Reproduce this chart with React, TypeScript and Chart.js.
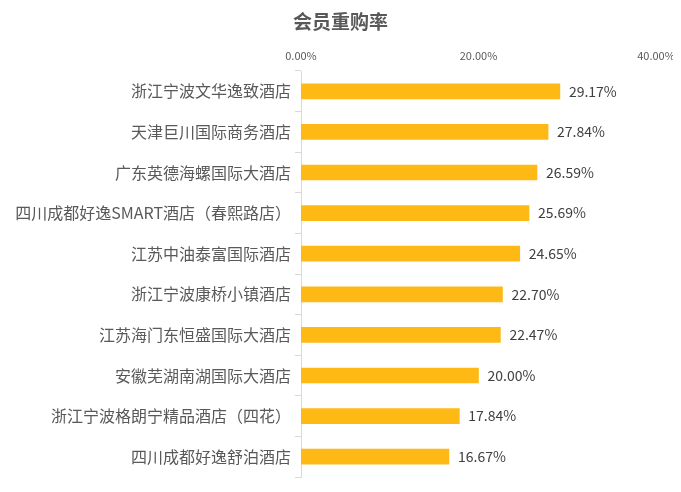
import React, { useEffect, useRef } from "react";
import { Chart, registerables } from "chart.js";

Chart.register(...registerables);

const categories = [
  "浙江宁波文华逸致酒店",
  "天津巨川国际商务酒店",
  "广东英德海螺国际大酒店",
  "四川成都好逸SMART酒店（春熙路店）",
  "江苏中油泰富国际酒店",
  "浙江宁波康桥小镇酒店",
  "江苏海门东恒盛国际大酒店",
  "安徽芜湖南湖国际大酒店",
  "浙江宁波格朗宁精品酒店（四花）",
  "四川成都好逸舒泊酒店",
];
const values = [29.17, 27.84, 26.59, 25.69, 24.65, 22.7, 22.47, 20.0, 17.84, 16.67];
const xTicks = [0, 20, 40];

const FONT = "'Noto Sans CJK SC', 'Microsoft YaHei', sans-serif";

const valueLabels = {
  id: "valueLabels",
  afterDatasetsDraw(chart: any) {
    const ctx = chart.ctx;
    const meta = chart.getDatasetMeta(0);
    ctx.save();
    ctx.font = `14px ${FONT}`;
    ctx.fillStyle = "#404040";
    ctx.textAlign = "left";
    ctx.textBaseline = "middle";
    meta.data.forEach((bar: any, i: number) => {
      ctx.fillText(values[i].toFixed(2) + "%", bar.x + 9, bar.y);
    });
    ctx.restore();
  },
};

export default function App() {
  const ref = useRef<HTMLCanvasElement>(null);
  useEffect(() => {
    if (!ref.current) return;
    const chart = new Chart(ref.current, {
      type: "bar",
      data: {
        labels: categories,
        datasets: [
          {
            data: values,
            backgroundColor: "#FFB915",
            barThickness: 15,
          },
        ],
      },
      options: {
        indexAxis: "y",
        animation: false,
        responsive: true,
        maintainAspectRatio: false,
        layout: { padding: { left: 0, right: 0, top: 0, bottom: 7 } },
        plugins: {
          legend: { display: false },
          tooltip: { enabled: false },
          title: {
            display: true,
            text: "会员重购率",
            color: "#595959",
            font: { family: FONT, size: 19, weight: "bold" },
            padding: { top: 2, bottom: 15 },
          },
        },
        scales: {
          x: {
            position: "top",
            min: 0,
            max: 40,
            afterBuildTicks: (scale: any) => {
              scale.ticks = xTicks.map((v) => ({ value: v }));
            },
            afterFit: (scale: any) => {
              scale.paddingLeft = 0;
              scale.paddingRight = 17;
            },
            grid: { display: false },
            border: { display: false },
            ticks: {
              color: "#595959",
              font: { family: FONT, size: 11 },
              padding: 1,
              callback: (v: any) => Number(v).toFixed(2) + "%",
            },
          },
          y: {
            afterFit: (scale: any) => {
              scale.width = 293;
              scale.paddingTop = 0;
              scale.paddingBottom = 0;
            },
            grid: {
              offset: true,
              drawOnChartArea: false,
              drawTicks: true,
              tickLength: 6,
              color: "#d9d9d9",
            },
            border: { display: true, color: "#d9d9d9" },
            ticks: {
              color: "#595959",
              font: { family: FONT, size: 16 },
              padding: 4,
            },
          },
        },
      },
      plugins: [valueLabels],
    });
    return () => chart.destroy();
  }, []);
  return (
    <div style={{ width: "100%", height: 476, position: "relative" }}>
      <canvas ref={ref} />
    </div>
  );
}
